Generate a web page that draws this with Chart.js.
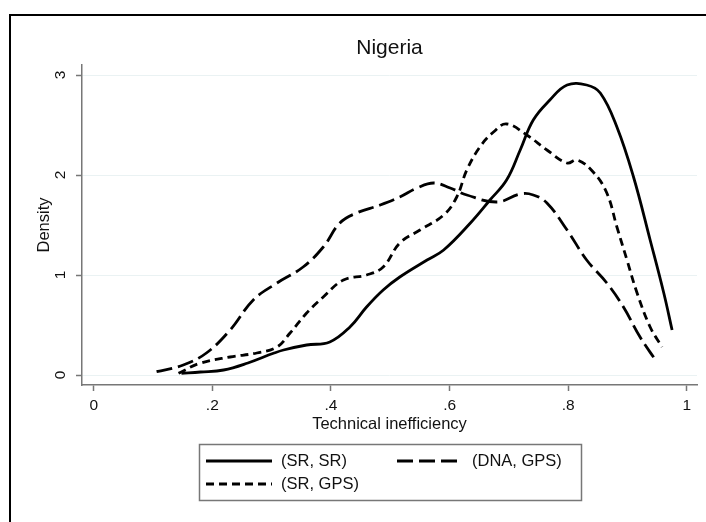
<!DOCTYPE html>
<html><head><meta charset="utf-8">
<script src="https://cdn.jsdelivr.net/npm/chart.js@4"></script>
<style>html,body{margin:0;padding:0;background:#fff}canvas{display:block}</style>
</head><body>
<canvas id="c" width="706" height="522"></canvas>
<script>
const chartTitle = 'Nigeria';
const xAxisTitle = 'Technical inefficiency';
const yAxisTitle = 'Density';
const xTickValues = [0, 0.2, 0.4, 0.6, 0.8, 1];
const xTickLabels = ['0', '.2', '.4', '.6', '.8', '1'];
const yTickValues = [0, 1, 2, 3];
const yTickLabels = ['0', '1', '2', '3'];
const seriesNames = ['(SR, SR)', '(DNA, GPS)', '(SR, GPS)'];

// (SR, SR) - solid
const srSrX = [0.148, 0.18, 0.219, 0.26, 0.303, 0.32, 0.359, 0.398, 0.432, 0.46, 0.488, 0.516, 0.562, 0.59, 0.635, 0.668, 0.696, 0.719, 0.741, 0.769, 0.798, 0.831, 0.854, 0.882, 0.91, 0.938, 0.961, 0.975];
const srSrY = [0.017, 0.03, 0.05, 0.12, 0.217, 0.25, 0.30, 0.33, 0.48, 0.68, 0.85, 0.98, 1.15, 1.25, 1.52, 1.75, 1.95, 2.25, 2.55, 2.75, 2.9, 2.9, 2.82, 2.48, 1.98, 1.35, 0.82, 0.45];

// (DNA, GPS) - long dash
const dnaGpsX = [0.106, 0.151, 0.19, 0.23, 0.269, 0.309, 0.353, 0.387, 0.415, 0.443, 0.483, 0.516, 0.545, 0.573, 0.601, 0.629, 0.68, 0.719, 0.741, 0.764, 0.798, 0.831, 0.865, 0.893, 0.921, 0.947];
const dnaGpsY = [0.033, 0.10, 0.22, 0.45, 0.75, 0.92, 1.08, 1.28, 1.52, 1.62, 1.70, 1.78, 1.87, 1.92, 1.87, 1.80, 1.73, 1.81, 1.80, 1.72, 1.45, 1.15, 0.92, 0.68, 0.38, 0.15];

// (SR, GPS) - short dash
const srGpsX = [0.143, 0.179, 0.23, 0.275, 0.309, 0.331, 0.359, 0.387, 0.421, 0.46, 0.488, 0.516, 0.55, 0.59, 0.612, 0.629, 0.651, 0.674, 0.696, 0.73, 0.764, 0.798, 0.815, 0.842, 0.865, 0.882, 0.899, 0.916, 0.938, 0.958];
const srGpsY = [0.017, 0.117, 0.18, 0.22, 0.28, 0.42, 0.62, 0.78, 0.95, 1.0, 1.08, 1.32, 1.45, 1.60, 1.78, 2.05, 2.28, 2.43, 2.51, 2.40, 2.25, 2.12, 2.15, 2.03, 1.82, 1.48, 1.15, 0.82, 0.48, 0.28];

const FONT = '"Liberation Sans", Arial, Helvetica, sans-serif';
const pts = (xs, ys) => xs.map((x, i) => ({ x: x, y: ys[i] }));

const decor = {
  id: 'decor',
  afterDraw(chart) {
    const ctx = chart.ctx;
    const ca = chart.chartArea;
    ctx.save();
    // outer frame
    ctx.strokeStyle = '#000';
    ctx.lineWidth = 2;
    ctx.strokeRect(10, 15, 720, 540);
    // title
    ctx.fillStyle = '#111';
    ctx.font = '21px ' + FONT;
    ctx.textAlign = 'center';
    ctx.textBaseline = 'middle';
    ctx.fillText(chartTitle, (ca.left + ca.right) / 2, 48);
    // legend box
    ctx.strokeStyle = '#777';
    ctx.lineWidth = 1.5;
    ctx.strokeRect(199.5, 444.5, 382, 56);
    const colX = [206, 397];
    const rowY = [461, 484];
    ctx.font = '16.5px ' + FONT;
    ctx.textAlign = 'left';
    chart.data.datasets.forEach((ds, i) => {
      const c = i % 2, r = Math.floor(i / 2);
      const x0 = colX[c], y = rowY[r];
      ctx.strokeStyle = '#000';
      ctx.lineWidth = ds.borderWidth;
      ctx.setLineDash(ds.borderDash || []);
      ctx.beginPath();
      ctx.moveTo(x0, y);
      ctx.lineTo(x0 + 66, y);
      ctx.stroke();
      ctx.setLineDash([]);
      ctx.fillStyle = '#111';
      ctx.fillText(ds.label, x0 + 75, y);
    });
    ctx.restore();
  }
};

new Chart(document.getElementById('c'), {
  type: 'line',
  data: {
    datasets: [
      { label: seriesNames[0], data: pts(srSrX, srSrY), borderColor: '#000', borderWidth: 2.8, borderDash: [], pointRadius: 0, tension: 0.4, fill: false },
      { label: seriesNames[1], data: pts(dnaGpsX, dnaGpsY), borderColor: '#000', borderWidth: 2.8, borderDash: [16, 6], pointRadius: 0, tension: 0.4, fill: false },
      { label: seriesNames[2], data: pts(srGpsX, srGpsY), borderColor: '#000', borderWidth: 2.8, borderDash: [8, 5], pointRadius: 0, tension: 0.4, fill: false }
    ]
  },
  options: {
    responsive: false,
    animation: false,
    devicePixelRatio: 1,
    layout: { padding: { top: 65, right: 9, left: 0, bottom: 0 } },
    plugins: { legend: { display: false }, title: { display: false }, tooltip: { enabled: false } },
    scales: {
      x: {
        type: 'linear',
        min: -0.0197,
        max: 1.017,
        afterFit: s => { s.height = 137; },
        afterBuildTicks: s => { s.ticks = xTickValues.map(v => ({ value: v })); },
        ticks: {
          callback: (v) => { const i = xTickValues.indexOf(v); return i >= 0 ? xTickLabels[i] : ''; },
          font: { family: FONT, size: 15.5 }, color: '#111', padding: 5, maxRotation: 0, autoSkip: false
        },
        grid: { drawOnChartArea: false, drawTicks: true, tickLength: 6, tickColor: '#777', tickWidth: 1.5 },
        border: { display: true, color: '#777', width: 1.5 },
        title: { display: true, text: xAxisTitle, font: { family: FONT, size: 16.5 }, color: '#111', padding: { top: 0, bottom: 88 } }
      },
      y: {
        type: 'linear',
        min: -0.1,
        max: 3.1,
        afterFit: s => { s.width = 82; },
        afterBuildTicks: s => { s.ticks = yTickValues.map(v => ({ value: v })); },
        ticks: {
          callback: (v) => { const i = yTickValues.indexOf(v); return i >= 0 ? yTickLabels[i] : ''; },
          font: { family: FONT, size: 15.5 }, color: '#111', padding: 11, minRotation: 90, maxRotation: 90, crossAlign: 'center', autoSkip: false
        },
        grid: { drawOnChartArea: true, color: '#eaf2f3', lineWidth: 1, drawTicks: true, tickLength: 6, tickColor: '#777', tickWidth: 1.5 },
        border: { display: true, color: '#777', width: 1.5 },
        title: { display: true, text: yAxisTitle, font: { family: FONT, size: 16.5 }, color: '#111', padding: { top: 35, bottom: 0 } }
      }
    }
  },
  plugins: [decor]
});
</script>
</body></html>
